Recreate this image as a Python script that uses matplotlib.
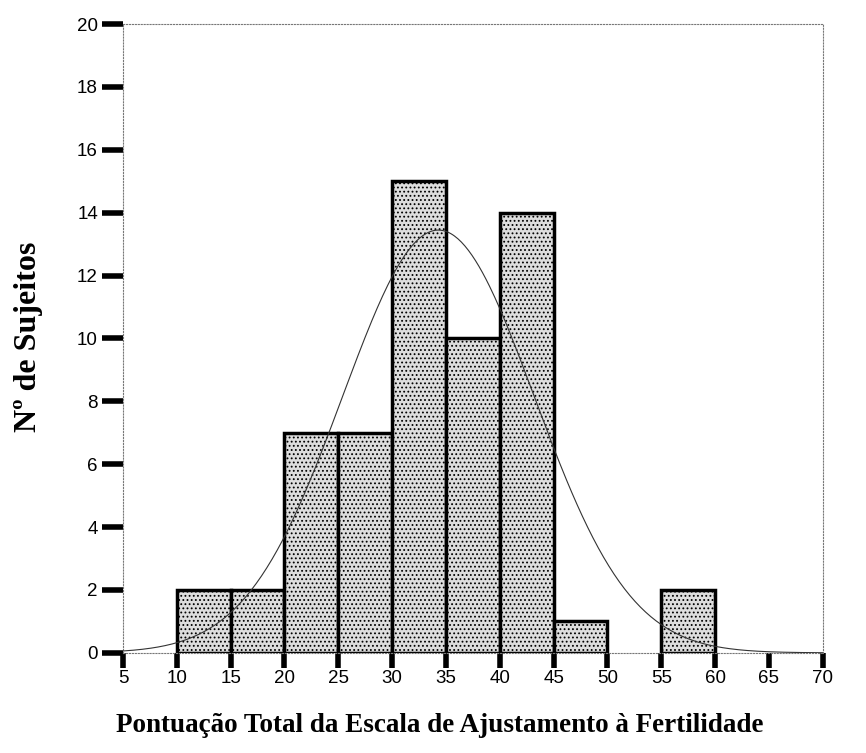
import numpy as np
import matplotlib.pyplot as plt

# histogram bins (left edges) and counts
bin_edges = [10, 15, 20, 25, 30, 35, 40, 45, 50, 55, 60]
counts = [2, 2, 7, 7, 15, 10, 14, 1, 0, 2]

# fitted normal curve parameters
curve_mean = 34.3
curve_sd = 8.9
n_subjects = sum(counts)
bin_width = 5

x_ticks = [5, 10, 15, 20, 25, 30, 35, 40, 45, 50, 55, 60, 65, 70]
y_ticks = [0, 2, 4, 6, 8, 10, 12, 14, 16, 18, 20]

plt.rcParams['hatch.color'] = '#555555'
plt.rcParams['hatch.linewidth'] = 0.8

fig = plt.figure(figsize=(8.66, 7.53), dpi=100)
ax = fig.add_axes([0.142, 0.133, 0.808, 0.835])

lefts = bin_edges[:-1]
for left, c in zip(lefts, counts):
    if c == 0:
        continue
    ax.bar(left, c, width=bin_width, align='edge', facecolor='#dddddd',
           edgecolor='black', linewidth=2.5, hatch='....', zorder=2)

xs = np.linspace(5, 70, 400)
ys = n_subjects * bin_width / (curve_sd * np.sqrt(2 * np.pi)) * \
    np.exp(-(xs - curve_mean) ** 2 / (2 * curve_sd ** 2))
ax.plot(xs, ys, color='#333333', linewidth=0.8, zorder=3)

ax.set_xlim(5, 70)
ax.set_ylim(0, 20)
ax.set_xticks(x_ticks)
ax.set_yticks(y_ticks)

for s in ax.spines.values():
    s.set_linestyle(':')
    s.set_linewidth(0.8)
    s.set_color('#777777')

ax.tick_params(axis='both', direction='out', width=4, color='black',
               labelsize=13.5, labelfontfamily='Liberation Sans')
ax.tick_params(axis='y', length=15, pad=3)
ax.tick_params(axis='x', length=11, pad=1)

fig.text(0.033, 0.553, 'Nº de Sujeitos', rotation=90, ha='center', va='center',
         fontsize=23, fontweight='bold', family='Liberation Serif')
fig.text(0.508, 0.037, 'Pontuação Total da Escala de Ajustamento à Fertilidade',
         ha='center', va='center', fontsize=19.5, fontweight='bold',
         family='Liberation Serif')

fig.savefig('out.png', dpi=100)
